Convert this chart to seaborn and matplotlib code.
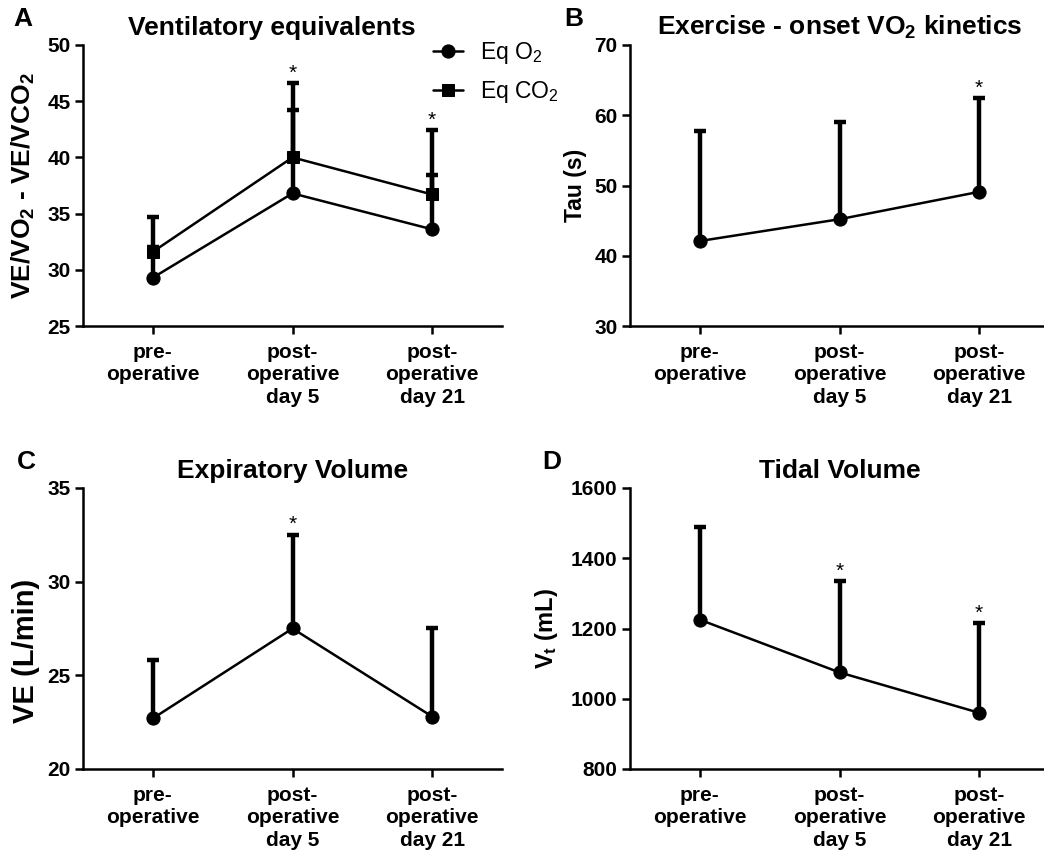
import numpy as np
import pandas as pd
import matplotlib
matplotlib.use("Agg")
import matplotlib.pyplot as plt
import seaborn as sns

# ---------------- data ----------------
categories = ["pre-\noperative", "post-\noperative\nday 5", "post-\noperative\nday 21"]

eq_o2_mean = [29.3, 36.8, 33.6]
eq_o2_upper = [32.0, 44.2, 38.4]
eq_co2_mean = [31.6, 40.0, 36.7]
eq_co2_upper = [34.7, 46.6, 42.4]
a_sig = [False, True, True]

tau_mean = [42.1, 45.2, 49.1]
tau_upper = [57.7, 59.0, 62.4]
b_sig = [False, False, True]

ve_mean = [22.7, 27.5, 22.8]
ve_upper = [25.8, 32.5, 27.5]
c_sig = [False, True, False]

vt_mean = [1225, 1075, 960]
vt_upper = [1490, 1335, 1215]
d_sig = [False, True, True]

# ---------------- style ----------------
sns.set_style("ticks")
plt.rcParams["font.family"] = ["Liberation Sans", "DejaVu Sans"]
plt.rcParams["mathtext.default"] = "regular"
for key in ("text.color", "axes.labelcolor", "xtick.color", "ytick.color", "axes.edgecolor"):
    plt.rcParams[key] = "black"

fig = plt.figure(figsize=(10.44, 8.56), dpi=100)

W = (502 - 83) / 1044
H = (326 - 45) / 856
axA = fig.add_axes([83 / 1044, 1 - 326 / 856, W, H])
axB = fig.add_axes([630 / 1044, 1 - 326 / 856, W, H])
axC = fig.add_axes([83 / 1044, 1 - 769 / 856, W, H])
axD = fig.add_axes([630 / 1044, 1 - 769 / 856, W, H])

xpos = np.arange(len(categories))
TICK_FS = 15
TITLE_FS = 19


def draw_series(ax, mean, upper, marker, label=None):
    df = pd.DataFrame({"x": xpos, "y": mean})
    ax.errorbar(xpos, mean, yerr=[np.zeros(len(mean)), np.array(upper) - np.array(mean)],
                fmt="none", ecolor="black", elinewidth=3.2, capsize=4.5, capthick=3.2, zorder=2)
    sns.lineplot(data=df, x="x", y="y", ax=ax, color="black", linewidth=1.8,
                 marker=marker, markersize=9.5 if marker == "o" else 9,
                 markeredgecolor="black", label=label, legend=False, zorder=3)


def add_stars(ax, upper, sig):
    for xi, u, s in zip(xpos, upper, sig):
        if s:
            ax.annotate("*", (xi, u), xytext=(0, 0.5), textcoords="offset points",
                        ha="center", va="bottom", fontsize=15, fontweight="normal")


def style_axis(ax, ylim, yticks, title, ylabel, ylab_fs, ylab_xy, title_x=0.5):
    ax.set_xlim(-0.5, 2.5)
    ax.set_ylim(*ylim)
    ax.set_yticks(yticks)
    ax.set_xticks(xpos)
    ax.set_xticklabels(categories, fontsize=TICK_FS, fontweight="bold", linespacing=1.25)
    for lbl in ax.get_yticklabels():
        lbl.set_fontsize(TICK_FS)
        lbl.set_fontweight("bold")
    ax.tick_params(axis="both", length=6, width=1.8, color="black")
    ax.tick_params(axis="x", pad=6)
    ax.tick_params(axis="y", pad=3)
    ax.set_xlabel("")
    ax.set_ylabel(ylabel, fontsize=ylab_fs, fontweight="bold")
    ax.yaxis.set_label_coords(*ylab_xy)
    ax.set_title(title, fontsize=TITLE_FS, fontweight="bold", pad=7, x=title_x)
    sns.despine(ax=ax)
    for sp in ("left", "bottom"):
        ax.spines[sp].set_linewidth(1.8)
        ax.spines[sp].set_clip_on(False)


# Panel A
draw_series(axA, eq_o2_mean, eq_o2_upper, "o", "Eq O$_2$")
draw_series(axA, eq_co2_mean, eq_co2_upper, "s", "Eq CO$_2$")
add_stars(axA, eq_co2_upper, a_sig)
style_axis(axA, (25, 50), [25, 30, 35, 40, 45, 50], "Ventilatory equivalents",
           "VE/VO$_2$ - VE/VCO$_2$", 19, (-0.11, 0.5), title_x=0.45)
handles, labels = axA.get_legend_handles_labels()
axA.legend(handles, labels, loc="upper left", bbox_to_anchor=(433 / 1044, 1 - 40 / 856),
           bbox_transform=fig.transFigure, frameon=False, fontsize=16.5,
           handlelength=1.3, handletextpad=0.74, labelspacing=0.55,
           borderpad=0, borderaxespad=0)

# Panel B
draw_series(axB, tau_mean, tau_upper, "o")
add_stars(axB, tau_upper, b_sig)
style_axis(axB, (30, 70), [30, 40, 50, 60, 70], "Exercise - onset VO$_2$ kinetics",
           "Tau (s)", 16.5, (-0.103, 0.5))

# Panel C
draw_series(axC, ve_mean, ve_upper, "o")
add_stars(axC, ve_upper, c_sig)
style_axis(axC, (20, 35), [20, 25, 30, 35], "Expiratory Volume",
           "VE (L/min)", 21, (-0.103, 0.42))

# Panel D
draw_series(axD, vt_mean, vt_upper, "o")
add_stars(axD, vt_upper, d_sig)
style_axis(axD, (800, 1600), [800, 1000, 1200, 1400, 1600], "Tidal Volume",
           "V$_t$ (mL)", 17, (-0.167, 0.5))

# Panel letters
for letter, (px, py) in zip("ABCD", [(23, 19), (574, 19), (26, 462), (552, 462)]):
    fig.text(px / 1044, 1 - py / 856, letter, fontsize=19, fontweight="bold",
             ha="center", va="center")

fig.savefig("out.png", dpi=100)
